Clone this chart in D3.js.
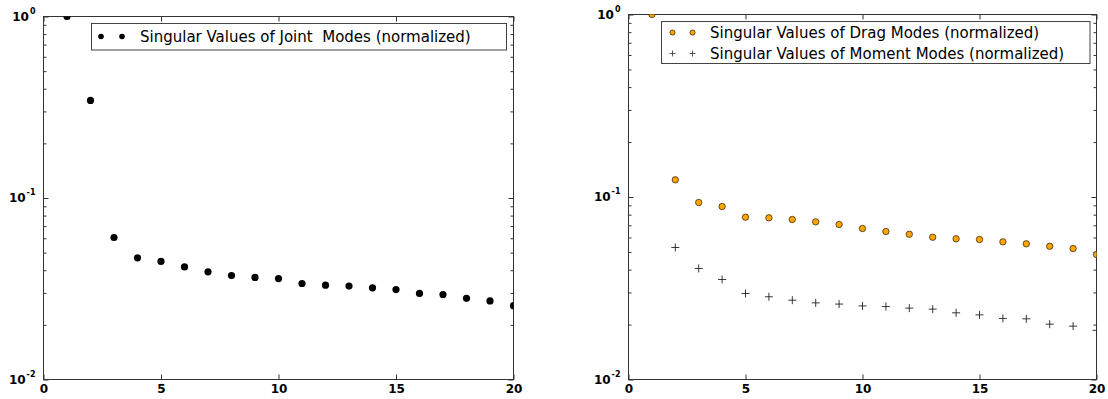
<!DOCTYPE html>
<html>
<head>
<meta charset="utf-8">
<script src="https://cdn.jsdelivr.net/npm/d3@7"></script>
<style>
  html, body { margin: 0; padding: 0; background: #fff; }
  svg { display: block; }
  text { font-family: "DejaVu Sans", sans-serif; }
  .leg { white-space: pre; }
</style>
</head>
<body>
<svg id="chart" width="1108" height="399"></svg>
<script>
// ---- data ----
const modes = [1, 2, 3, 4, 5, 6, 7, 8, 9, 10, 11, 12, 13, 14, 15, 16, 17, 18, 19, 20];
const jointValues = [1.0, 0.345, 0.0606, 0.0468, 0.0447, 0.0417, 0.0392, 0.0374, 0.0365, 0.0360,
                     0.0338, 0.0331, 0.0327, 0.0320, 0.0313, 0.0298, 0.0294, 0.0280, 0.0271, 0.0255];
const momentModes = [2, 3, 4, 5, 6, 7, 8, 9, 10, 11, 12, 13, 14, 15, 16, 17, 18, 19, 20];
const dragValues = [1.0, 0.1242, 0.0933, 0.0887, 0.0775, 0.0769, 0.0753, 0.0731, 0.0707, 0.0672,
                    0.0647, 0.0625, 0.0602, 0.0590, 0.0585, 0.0568, 0.0554, 0.0537, 0.0522, 0.0484];
const momentValues = [0.0529, 0.0406, 0.0353, 0.0296, 0.0284, 0.0272, 0.0263, 0.0259, 0.0253,
                      0.0251, 0.0246, 0.0243, 0.0232, 0.0226, 0.0216, 0.0215, 0.0201, 0.0196, 0.0186];
const xTicks = [0, 5, 10, 15, 20];
const yMajor = [0.01, 0.1, 1];
const yMajorExp = ["-2", "-1", "0"];
const legendLeft = ["Singular Values of Joint  Modes (normalized)"];
const legendRight = ["Singular Values of Drag Modes (normalized)", "Singular Values of Moment Modes (normalized)"];

const svg = d3.select("#chart");
const frameColor = "#333";

function panel(id, x0, x1, y0, y1) {
  const x = d3.scaleLinear().domain([0, 20]).range([x0, x1]);
  const y = d3.scaleLog().domain([0.01, 1]).range([y1, y0]);
  const g = svg.append("g");
  g.append("clipPath").attr("id", id).append("rect")
    .attr("x", x0).attr("y", y0).attr("width", x1 - x0).attr("height", y1 - y0);
  const minor = y.ticks().filter(v => !yMajor.some(m => Math.abs(m - v) < 1e-9));

  const styleAxis = a => {
    a.select(".domain").remove();
    a.selectAll("line").attr("stroke", frameColor);
  };
  // bottom
  g.append("g").attr("transform", `translate(0,${y1})`)
    .call(d3.axisBottom(x).tickValues(xTicks).tickSize(-5).tickPadding(5).tickFormat(d3.format("d")))
    .call(styleAxis)
    .call(a => a.selectAll("text").attr("font-size", 12).attr("font-weight", "bold")
      .attr("font-family", "DejaVu Sans").attr("fill", "#000"));
  // top
  g.append("g").attr("transform", `translate(0,${y0})`)
    .call(d3.axisTop(x).tickValues(xTicks).tickSize(-5).tickFormat(""))
    .call(styleAxis);
  // left minor + major
  g.append("g").attr("transform", `translate(${x0},0)`)
    .call(d3.axisLeft(y).tickValues(minor).tickSize(-3).tickFormat(""))
    .call(styleAxis);
  const la = g.append("g").attr("transform", `translate(${x0},0)`)
    .call(d3.axisLeft(y).tickValues(yMajor).tickSize(-5).tickPadding(8).tickFormat(""))
    .call(styleAxis);
  la.selectAll(".tick").each(function(d, i) {
    const t = d3.select(this).append("text")
      .attr("x", -8).attr("dy", "0.36em").attr("text-anchor", "end")
      .attr("font-weight", "bold").attr("fill", "#000");
    t.append("tspan").attr("font-size", 12).text("10");
    t.append("tspan").attr("font-size", 8).attr("dy", "-0.85em").attr("dx", 1).text(yMajorExp[i]);
  });
  // right
  g.append("g").attr("transform", `translate(${x1},0)`)
    .call(d3.axisRight(y).tickValues(minor).tickSize(-3).tickFormat(""))
    .call(styleAxis);
  g.append("g").attr("transform", `translate(${x1},0)`)
    .call(d3.axisRight(y).tickValues(yMajor).tickSize(-5).tickFormat(""))
    .call(styleAxis);
  // frame
  g.append("rect").attr("x", x0).attr("y", y0).attr("width", x1 - x0).attr("height", y1 - y0)
    .attr("fill", "none").attr("stroke", frameColor).attr("stroke-width", 1);
  const plot = g.append("g").attr("clip-path", `url(#${id})`);
  return { x, y, g, plot };
}

function plusPath(cx, cy, h) {
  return `M${cx - h},${cy}H${cx + h}M${cx},${cy - h}V${cy + h}`;
}

// ---- left panel ----
const L = panel("clipL", 43.5, 513.5, 16.5, 379.5);
L.plot.selectAll("circle").data(jointValues).join("circle")
  .attr("cx", (d, i) => L.x(modes[i])).attr("cy", d => L.y(d))
  .attr("r", 3.6).attr("fill", "#000");

// left legend
{
  const lg = svg.append("g");
  lg.append("rect").attr("x", 91.5).attr("y", 23.5).attr("width", 415).attr("height", 26.5)
    .attr("fill", "#fff").attr("stroke", "#444");
  [101, 122].forEach(cx => lg.append("circle").attr("cx", cx).attr("cy", 36.5).attr("r", 2.8).attr("fill", "#000"));
  lg.append("text").attr("class", "leg").attr("x", 140).attr("y", 36.5).attr("dy", "0.36em")
    .attr("font-size", 15).attr("fill", "#000").text(legendLeft[0]);
}

// ---- right panel ----
const R = panel("clipR", 628.5, 1096.5, 14.5, 379.5);
R.plot.selectAll("circle").data(dragValues).join("circle")
  .attr("cx", (d, i) => R.x(modes[i])).attr("cy", d => R.y(d))
  .attr("r", 3.2).attr("fill", "#ffa500").attr("stroke", "#000").attr("stroke-width", 0.6);
R.plot.selectAll("path.plus").data(momentValues).join("path").attr("class", "plus")
  .attr("d", (d, i) => plusPath(R.x(momentModes[i]), R.y(d), 4))
  .attr("stroke", "#222").attr("stroke-width", 0.9).attr("fill", "none");

// right legend
{
  const lg = svg.append("g");
  lg.append("rect").attr("x", 661.5).attr("y", 21.5).attr("width", 428.5).attr("height", 42)
    .attr("fill", "#fff").attr("stroke", "#444");
  [672.5, 692.5].forEach(cx => lg.append("circle").attr("cx", cx).attr("cy", 32.5).attr("r", 2.6)
    .attr("fill", "#ffa500").attr("stroke", "#000").attr("stroke-width", 0.6));
  [672.5, 692.5].forEach(cx => lg.append("path").attr("d", plusPath(cx, 53.5, 3))
    .attr("stroke", "#333").attr("stroke-width", 0.8).attr("fill", "none"));
  legendRight.forEach((t, i) => lg.append("text").attr("class", "leg").attr("x", 710).attr("y", i === 0 ? 32.5 : 53.5)
    .attr("dy", "0.36em").attr("font-size", 15).attr("fill", "#000").text(t));
}
</script>
</body>
</html>
